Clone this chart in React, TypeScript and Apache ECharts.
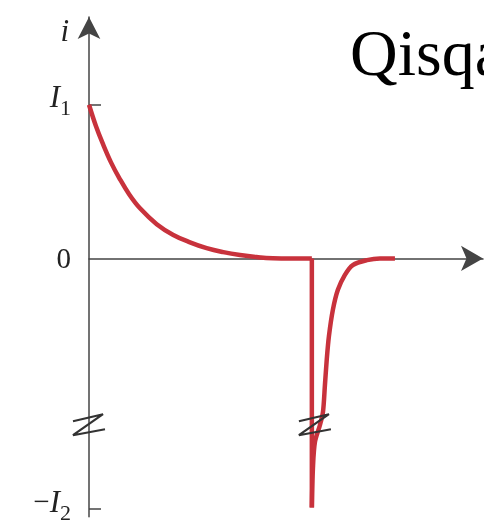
import React, { useEffect, useRef } from "react";
import * as echarts from "echarts";

// Current i(t): exponential decay from I1 to 0
const decayX = [0, 1.83, 3.58, 5.74, 7.91, 10.52, 13.32, 17.68, 22.01, 26.37, 30.73, 35.07, 39.43, 43.79, 48.04, 58.2];
const decayY = [1, 0.86, 0.748, 0.625, 0.523, 0.416, 0.326, 0.223, 0.153, 0.105, 0.067, 0.041, 0.022, 0.009, 0.002, 0];
// Sudden drop to -I2
const I1 = 1;
const I2 = 1.63;
const dropX = [58.2, 58.2];
const dropY = [0, -1.62];
// Recovery back to 0
const recX = [58.2, 58.49, 59.0, 60.3, 61.1, 61.6, 62.1, 62.66, 63.7, 65.0, 66.8, 68.9, 72.6, 76.0, 79.9];
const recY = [-1.62, -1.36, -1.195, -1.085, -1.0, -0.83, -0.655, -0.506, -0.333, -0.204, -0.108, -0.043, -0.011, 0, 0];
// Axis-break marks
const breakX = [0, 59.0];
const breakY = [-1.085, -1.085];
// Tick values and labels
const tickValues = [I1, 0, -I2];
const tickLabels = ["{i|I}{s|1}", "{n|0}", "{m|−}{i|I}{s|2}"];
const title = "Qisqa";

const RED = "#c8323c";
const AXIS = "#444";
const SERIF = "'Liberation Serif', 'DejaVu Serif', serif";

function zip(xs: number[], ys: number[]) {
  return xs.map((x, i) => [x, ys[i]]);
}

export default function App() {
  const ref = useRef<HTMLDivElement>(null);
  useEffect(() => {
    if (!ref.current) return;
    const chart = echarts.init(ref.current, null, { renderer: "svg" });
    chart.setOption({
      animation: false,
      grid: { left: 89, top: 17.1, width: 394, height: 505.4 },
      xAxis: {
        type: "value",
        min: 0,
        max: 102.9,
        axisLine: {
          show: true,
          onZero: true,
          symbol: ["none", "arrow"],
          symbolSize: [19, 22],
          lineStyle: { color: AXIS, width: 1.5 },
        },
        axisTick: { show: false },
        axisLabel: { show: false },
        splitLine: { show: false },
      },
      yAxis: {
        type: "value",
        min: -1.68,
        max: 1.57,
        name: "i",
        nameLocation: "end",
        nameGap: -13,
        nameTextStyle: {
          fontFamily: SERIF,
          fontStyle: "italic",
          fontSize: 31,
          color: "#222",
          align: "right",
          verticalAlign: "middle",
          padding: [0, 20, 0, 0],
        },
        axisLine: {
          show: true,
          symbol: ["none", "arrow"],
          symbolSize: [17, 22],
          lineStyle: { color: AXIS, width: 1.5 },
        },
        axisTick: {
          show: true,
          inside: true,
          length: 12,
          customValues: [I1, -I2],
          lineStyle: { color: AXIS, width: 1.5 },
        },
        axisLabel: {
          show: true,
          margin: 18,
          customValues: tickValues,
          formatter: (v: number) => {
            const idx = tickValues.findIndex((t) => Math.abs(t - v) < 1e-6);
            return idx >= 0 ? tickLabels[idx] : "";
          },
          rich: {
            i: { fontFamily: SERIF, fontStyle: "italic", fontSize: 31, color: "#222", padding: [0, 0, 16, 0] },
            m: { fontFamily: SERIF, fontSize: 29, color: "#222", padding: [0, 0, 16, 0] },
            s: { fontFamily: SERIF, fontSize: 22, color: "#222", padding: [6, 0, 0, 0] },
            n: { fontFamily: SERIF, fontSize: 29, color: "#222" },
          },
        },
        splitLine: { show: false },
      },
      graphic: [
        {
          type: "text",
          left: 350,
          top: 19,
          style: {
            text: title,
            fontFamily: SERIF,
            fontSize: 66,
            fill: "#000",
          },
        },
      ],
      series: [
        {
          type: "line",
          data: zip(decayX, decayY),
          smooth: 0.4,
          showSymbol: false,
          lineStyle: { color: RED, width: 4.5 },
          z: 3,
        },
        {
          type: "line",
          data: zip(dropX, dropY),
          showSymbol: false,
          lineStyle: { color: RED, width: 4.5 },
          z: 3,
        },
        {
          type: "line",
          data: zip(recX, recY),
          smooth: 0.3,
          showSymbol: false,
          lineStyle: { color: RED, width: 4.5 },
          z: 3,
        },
        {
          type: "custom",
          data: zip(breakX, breakY),
          z: 5,
          renderItem: (params: any, api: any) => {
            const p = api.coord([api.value(0), api.value(1)]);
            const pts = [
              [-16, -4],
              [14, -11],
              [-16, 10],
              [16, 4],
            ].map(([dx, dy]) => [p[0] + dx, p[1] + dy]);
            return {
              type: "polyline",
              shape: { points: pts },
              style: { stroke: "#333", lineWidth: 2.2, fill: "none" },
            };
          },
        },
      ],
    });
    return () => chart.dispose();
  }, []);
  return (
    <div
      ref={ref}
      style={{ position: "fixed", left: 0, top: 0, width: 484, height: 523 }}
    />
  );
}
